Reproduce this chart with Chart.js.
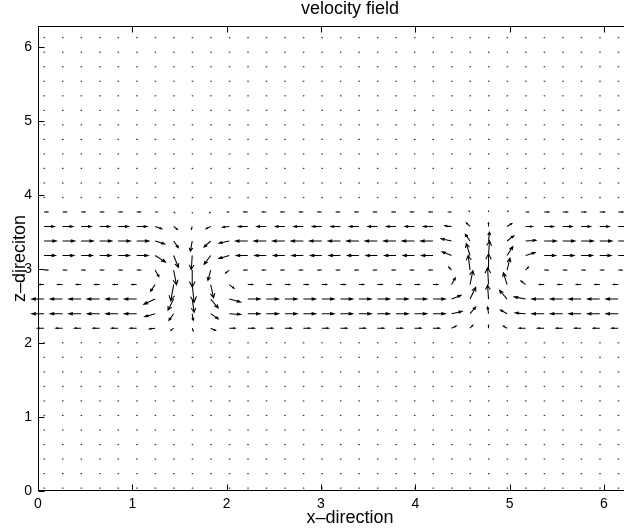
<!DOCTYPE html>
<html>
<head>
<meta charset="utf-8">
<script src="https://cdn.jsdelivr.net/npm/chart.js@4.4.0/dist/chart.umd.min.js"></script>
<style>
  html, body { margin: 0; padding: 0; background: #fff; overflow: hidden; }
  #wrap { width: 662px; height: 531px; }
</style>
</head>
<body>
<div id="wrap"><canvas id="quiver" width="662" height="531"></canvas></div>
<script>
// grid of the quiver plot (32 x 32 points)
const xGrid = [0.064, 0.260, 0.457, 0.653, 0.849, 1.046, 1.242, 1.438, 1.635, 1.831, 2.028, 2.224,
               2.420, 2.617, 2.813, 3.009, 3.206, 3.402, 3.598, 3.795, 3.991, 4.187, 4.384, 4.580,
               4.776, 4.973, 5.169, 5.366, 5.562, 5.758, 5.955, 6.151];
const yGrid = [0.040, 0.236, 0.433, 0.629, 0.825, 1.022, 1.218, 1.414, 1.611, 1.807, 2.004, 2.200,
               2.396, 2.593, 2.789, 2.985, 3.182, 3.378, 3.574, 3.771, 3.967, 4.163, 4.360, 4.556,
               4.752, 4.949, 5.145, 5.341, 5.538, 5.734, 5.930, 6.127];

// rows of yGrid that carry visible arrows (all other rows are ~0, drawn as dots)
const bandRows = [11, 12, 13, 14, 15, 16, 17, 18, 19];

// u and v in hundredths of an axis unit, one line per band row (bottom to top)
const uRows = [
  [-7,-7,-7,-7,-7,-7, -6,-3,1,5,6, 7,7,7,7,7,7,7,7,7,7,7, 5,3,0,-4,-7, -7,-7,-7,-7,-7],              // y = 2.20
  [-13,-13,-13,-13,-13,-13, -11,-5,1,8,12, 13,13,13,13,13,13,13,13,13,13,13, 11,6,-1,-7,-11, -13,-13,-13,-13,-13], // 2.40
  [-13,-13,-13,-13,-13,-13, -12,-6,2,8,12, 13,13,13,13,13,13,13,13,13,13,13, 10,6,-1,-8,-12, -13,-13,-13,-13,-13], // 2.59
  [-5,-5,-5,-5,-5,-5, -5,-3,2,3,5, 5,5,5,5,5,5,5,5,5,5,5, 4,3,-1,-4,-5, -5,-5,-5,-5,-5],              // 2.79
  [4,4,4,4,4,4, 4,3,0,-3,-4, -4,-4,-4,-4,-4,-4,-4,-4,-4,-4,-4, -3,-2,0,3,3, 4,4,4,4,4],               // 2.99
  [12,12,12,12,12,12, 11,5,-1,-7,-11, -12,-12,-12,-12,-12,-12,-12,-12,-12,-12,-12, -10,-4,1,6,10, 12,12,12,12,12], // 3.18
  [13,13,13,13,13,13, 10,5,-2,-7,-11, -13,-13,-13,-13,-13,-13,-13,-13,-13,-13,-13, -11,-5,1,7,11, 13,13,13,13,13], // 3.38
  [11,11,11,11,11,11, 7,4,-1,-5,-7, -10,-10,-10,-10,-10,-10,-10,-10,-10,-10,-10, -7,-4,0,5,7, 10,10,10,10,10],    // 3.57
  [4,4,4,4,4,4, 2,1,0,-1,-2, -4,-4,-4,-4,-4,-4,-4,-4,-4,-4,-4, -3,-1,0,1,3, 5,5,5,5,5]                // 3.77
];
const vRows = [
  [0,0,0,0,0,0, -1,-3,-4,-3,0, 0,0,0,0,0,0,0,0,0,0,0, 3,4,4,3,0, 0,0,0,0,0],
  [0,0,0,0,0,0, -4,-9,-9,-7,-1, 0,0,0,0,0,0,0,0,0,0,0, 3,9,9,5,1, 0,0,0,0,0],
  [0,0,0,0,0,0, -7,-15,-18,-12,-4, 0,0,0,0,0,0,0,0,0,0,0, 5,16,19,12,3, 0,0,0,0,0],
  [0,0,0,0,0,0, -9,-22,-24,-18,-5, 0,0,0,0,0,0,0,0,0,0,0, 9,19,23,16,5, 0,0,0,0,0],
  [0,0,0,0,0,0, -9,-20,-23,-14,-4, 0,0,0,0,0,0,0,0,0,0,0, 4,20,22,16,4, 0,0,0,0,0],
  [0,0,0,0,0,0, -9,-16,-19,-12,-4, 0,0,0,0,0,0,0,0,0,0,0, 5,16,20,12,4, 0,0,0,0,0],
  [0,0,0,0,0,0, -4,-9,-14,-8,-3, 0,0,0,0,0,0,0,0,0,0,0, 3,9,12,7,1, 0,0,0,0,0],
  [0,0,0,0,0,0, -3,-4,-4,-3,-1, 0,0,0,0,0,0,0,0,0,0,0, 1,5,5,4,0, 0,0,0,0,0],
  [0,0,0,0,0,0, 0,-1,-1,-1,0, 0,0,0,0,0,0,0,0,0,0,0, 0,1,1,1,0, 0,0,0,0,0]
];

const xTicks = [0, 1, 2, 3, 4, 5, 6];
const yTicks = [0, 1, 2, 3, 4, 5, 6];

const FONT = '"Liberation Sans", Arial, Helvetica, sans-serif';
const velScale = 0.01;   // hundredths -> axis units
const headA = 0.33;      // quiver head length (fraction of vector)
const headB = 0.4;       // quiver head width

// build points for the library
const points = [];
yGrid.forEach((yv, j) => {
    const b = bandRows.indexOf(j);
    xGrid.forEach((xv, i) => {
        points.push({x: xv, y: yv, u: b < 0 ? 0 : uRows[b][i], v: b < 0 ? 0 : vRows[b][i]});
    });
});

const quiverPlugin = {
    id: 'quiver',
    afterDatasetsDraw(chart) {
        const {ctx, scales: {x, y}} = chart;
        ctx.save();
        ctx.strokeStyle = '#000';
        ctx.fillStyle = '#333';
        ctx.lineWidth = 1.05;
        chart.data.datasets[0].data.forEach((p) => {
            const u = p.u * velScale, v = p.v * velScale;
            const x0 = x.getPixelForValue(p.x), y0 = y.getPixelForValue(p.y);
            if (u === 0 && v === 0) {
                ctx.fillRect(x0 - 0.5, y0 - 0.5, 1.5, 1.2);
                return;
            }
            const tx = p.x + u, ty = p.y + v;
            const h1x = tx - headA * (u + headB * v), h1y = ty - headA * (v - headB * u);
            const h2x = tx - headA * (u - headB * v), h2y = ty - headA * (v + headB * u);
            ctx.beginPath();
            ctx.moveTo(x0, y0);
            ctx.lineTo(x.getPixelForValue(tx), y.getPixelForValue(ty));
            ctx.moveTo(x.getPixelForValue(h1x), y.getPixelForValue(h1y));
            ctx.lineTo(x.getPixelForValue(tx), y.getPixelForValue(ty));
            ctx.lineTo(x.getPixelForValue(h2x), y.getPixelForValue(h2y));
            ctx.stroke();
        });
        ctx.restore();
    }
};

// matlab style box with inward ticks
const boxPlugin = {
    id: 'box',
    afterDraw(chart) {
        const {ctx, chartArea: a, scales: {x, y}} = chart;
        const L = Math.round(a.left) + 0.5, R = Math.round(a.right) - 0.5;
        const T = Math.round(a.top) + 0.5, B = Math.round(a.bottom) - 0.5;
        ctx.save();
        ctx.strokeStyle = '#000';
        ctx.lineWidth = 1;
        ctx.strokeRect(L, T, R - L, B - T);
        ctx.beginPath();
        xTicks.forEach((t) => {
            const px = Math.round(x.getPixelForValue(t)) + 0.5;
            ctx.moveTo(px, B); ctx.lineTo(px, B - 6);
            ctx.moveTo(px, T); ctx.lineTo(px, T + 6);
        });
        yTicks.forEach((t) => {
            const py = Math.round(y.getPixelForValue(t)) + 0.5;
            ctx.moveTo(L, py); ctx.lineTo(L + 6, py);
            ctx.moveTo(R, py); ctx.lineTo(R - 6, py);
        });
        ctx.stroke();
        ctx.restore();
    }
};

new Chart(document.getElementById('quiver'), {
    type: 'scatter',
    data: {datasets: [{data: points, pointRadius: 0, pointHoverRadius: 0, showLine: false}]},
    options: {
        responsive: false,
        animation: false,
        events: [],
        layout: {padding: 0},
        plugins: {
            legend: {display: false},
            tooltip: {enabled: false},
            title: {
                display: true,
                fullSize: false,
                text: 'velocity field',
                color: '#000',
                font: {family: FONT, size: 18, weight: 'normal', lineHeight: 1},
                padding: {top: 0, bottom: 8}
            }
        },
        scales: {
            x: {
                type: 'linear',
                min: 0,
                max: 6.615,
                grid: {display: false, drawTicks: false},
                border: {display: false},
                afterBuildTicks: (s) => { s.ticks = xTicks.map((v) => ({value: v})); },
                afterFit: (s) => { s.height = 40; },
                ticks: {color: '#000', padding: 5, maxRotation: 0, autoSkip: false,
                        font: {family: FONT, size: 14}, callback: (v) => String(v)},
                title: {display: true, text: 'x–direction', color: '#000',
                        font: {family: FONT, size: 18}, padding: {top: 0, bottom: 2}}
            },
            y: {
                type: 'linear',
                min: 0,
                max: 2 * Math.PI,
                grid: {display: false, drawTicks: false},
                border: {display: false},
                afterBuildTicks: (s) => { s.ticks = yTicks.map((v) => ({value: v})); },
                afterFit: (s) => { s.width = 38; },
                ticks: {color: '#000', padding: 6, autoSkip: false,
                        font: {family: FONT, size: 14}, callback: (v) => String(v)},
                title: {display: true, text: 'z–direciton', color: '#000',
                        font: {family: FONT, size: 18}, padding: {top: 9, bottom: 0}}
            }
        }
    },
    plugins: [quiverPlugin, boxPlugin]
});
</script>
</body>
</html>
